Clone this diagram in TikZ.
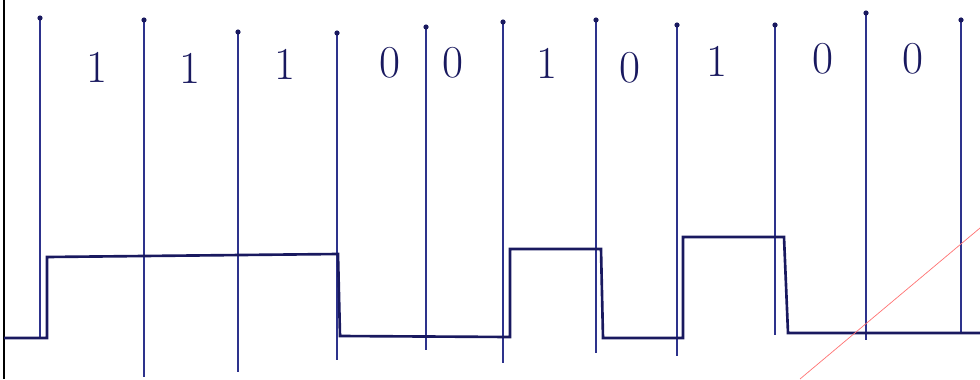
\documentclass[tikz,border=0pt]{standalone}
\usepackage{tikz}
\usetikzlibrary{arrows.meta}
\definecolor{inkBlue}{RGB}{45,50,140}
\definecolor{sigBlue}{RGB}{25,25,95}
\newcommand\tickW{0.7pt}
\newcommand\sigW{1.5pt}
\tikzset{
    bitLabel/.style={text=sigBlue, font=\fontsize{26}{30}\selectfont, inner sep=0pt},
    tickLine/.style={inkBlue, line width=\tickW},
    signal/.style={sigBlue, line width=\sigW, line join=miter}
}

\begin{document}
\begin{tikzpicture}[x=0.02cm, y=-0.02cm]
        \useasboundingbox (0,0) rectangle (980,379);
        % page edge
        \draw[black, line width=1pt] (4,0) -- (4,379);

        % bit boundaries (x / top / bottom)
        \foreach \x/\t/\b in {40/18/338, 144/20/377, 238/32/372, 337/33/360, 426/27/350,
                              503/22/363, 596/20/353, 677/25/356, 775/25/335, 866/13/340, 961/20/333}{
            \draw[tickLine] (\x,\t) -- (\x,\b);
            \fill[sigBlue] (\x,\t) circle (2.6);
        }

        % bits
        \foreach \x/\y/\v [count=\i] in {97/67/1, 190/68/1, 285/64/1, 390/63/0, 453/63/0,
                                         547/63/1, 630/68/0, 717/61/1, 823/59/0, 913/59/0}
            \node[bitLabel] (bit\i) at (\x,\y) {\v};

        % NRZ waveform
        \draw[signal] (4,338) -- (47,338) -- (47,257) -- (338,254) -- (340,336)
            -- (510,337) -- (510,249) -- (601,249) -- (603,338)
            -- (683,338) -- (683,237) -- (784,237) -- (788,333) -- (980,333);

        % stray pen mark
        \draw[red!55, line width=0.4pt] (800,379) -- (980,228);
    \end{tikzpicture}
\end{document}
